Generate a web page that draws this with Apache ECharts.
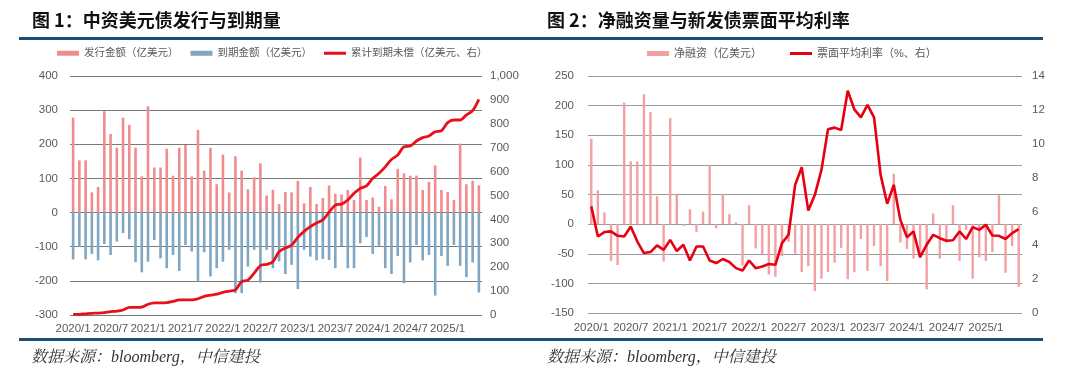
<!DOCTYPE html>
<html><head><meta charset="utf-8">
<script src="https://cdn.jsdelivr.net/npm/echarts@6/dist/echarts.min.js"></script>
<style>html,body{margin:0;padding:0;background:#fff}#c{width:1080px;height:379px}</style>
</head><body><div id="c"></div>
<script>
const months = ['2020/1','2020/2','2020/3','2020/4','2020/5','2020/6','2020/7','2020/8','2020/9','2020/10','2020/11','2020/12',
'2021/1','2021/2','2021/3','2021/4','2021/5','2021/6','2021/7','2021/8','2021/9','2021/10','2021/11','2021/12',
'2022/1','2022/2','2022/3','2022/4','2022/5','2022/6','2022/7','2022/8','2022/9','2022/10','2022/11','2022/12',
'2023/1','2023/2','2023/3','2023/4','2023/5','2023/6','2023/7','2023/8','2023/9','2023/10','2023/11','2023/12',
'2024/1','2024/2','2024/3','2024/4','2024/5','2024/6','2024/7','2024/8','2024/9','2024/10','2024/11','2024/12',
'2025/1','2025/2','2025/3','2025/4','2025/5','2025/6'];
const issuance = [278,153,153,59,75,297,230,190,278,257,190,106,311,132,132,187,108,190,198,106,242,123,190,83,170,59,165,123,68,103,144,50,67,25,60,
59,93,27,75,25,43,79,55,53,66,37,161,37,44,17,78,39,128,115,108,108,66,90,138,66,60,37,202,83,93,80];
const maturity = [-137,-100,-137,-121,-140,-92,-124,-85,-60,-78,-145,-175,-144,-80,-134,-163,-124,-171,-95,-114,-200,-116,-187,-163,-144,-109,-236,-236,-158,-109,-205,-109,-163,-143,-180,
-153,-224,-109,-129,-140,-136,-139,-163,-98,-163,-163,-90,-72,-121,-97,-163,-180,-127,-207,-146,-95,-140,-124,-243,-127,-156,-95,-156,-189,-146,-234];
const cumulativeOutstanding = [3,3,5,7,8,10,14,16,21,32,32,33,45,51,51,52,57,63,63,63,68,78,83,87,95,100,105,140,146,175,207,212,223,265,280,292,325,350,370,385,398,430,460,464,481,509,530,540,572,593,620,651,669,704,707,728,742,749,767,771,805,816,816,837,855,902];
const netFinancing = [144,57,20,-62,-69,205,106,106,219,189,47,-63,179,50,-3,25,-13,21,99,-7,50,17,3,-70,32,-41,-51,-85,-89,-54,-30,-50,-81,-71,-113,-92,-81,-65,-40,-93,-81,-25,-79,-37,-71,-96,85,-31,-42,-58,-56,-110,18,-58,-31,32,-62,-10,-92,-56,-62,-47,49,-82,-37,-106];
const couponRate = [6.3,4.52,4.78,4.82,4.56,4.52,5.11,4.22,3.54,3.6,3.99,3.73,4.32,3.66,4.03,3.1,3.93,3.93,3.1,2.95,3.19,3.01,2.65,2.51,3.1,2.65,2.75,2.89,2.85,4.13,4.62,7.57,8.61,6.05,6.98,8.45,10.86,10.95,10.81,13.13,12.03,11.56,12.29,11.56,8.16,6.45,7.57,5.5,4.48,4.82,3.3,4.03,4.62,4.42,4.27,4.3,4.82,4.37,5.07,4.91,5.21,4.58,4.56,4.37,4.72,4.96];

const titles = ['图 1：中资美元债发行与到期量', '图 2：净融资量与新发债票面平均利率'];
const sourceText = '数据来源：bloomberg，中信建投';
const names1 = ['发行金额（亿美元）', '到期金额（亿美元）', '累计到期未偿（亿美元、右）'];
const names2 = ['净融资（亿美元）', '票面平均利率（%、右）'];

const FONT = "'Liberation Sans', Arial, 'Noto Sans CJK SC', sans-serif";
const LBL = {color:'#595959', fontSize:11.5, fontFamily:FONT};
const LINE_ICON = 'path://M0,0L22,0L22,3L0,3Z';
const TITLE_STYLE = {fontSize:18, fontWeight:'bold', color:'#111', fontFamily:"'Noto Sans CJK SC', sans-serif"};
const SRC_STYLE = {fontSize:16, fontStyle:'italic', fontWeight:'normal', color:'#333', fontFamily:"'Liberation Serif', 'Noto Serif CJK SC', 'Noto Sans CJK SC', serif"};

const chart = echarts.init(document.getElementById('c'), null, {renderer:'canvas'});
chart.setOption({
  animation:false,
  backgroundColor:'#fff',
  title:[
    {text:titles[0], left:32, top:11, padding:0, textStyle:TITLE_STYLE},
    {text:titles[1], left:547, top:11, padding:0, textStyle:TITLE_STYLE},
    {text:sourceText, left:31, top:350, padding:0, textStyle:SRC_STYLE},
    {text:sourceText, left:547, top:350, padding:0, textStyle:SRC_STYLE}
  ],
  graphic:[
    {type:'rect', shape:{x:19, y:37, width:1024, height:3}, style:{fill:'#1d4f76'}},
    {type:'rect', shape:{x:19, y:338, width:1024, height:3}, style:{fill:'#1d4f76'}}
  ],
  legend:[
    {left:52, top:43, itemWidth:22, itemHeight:5, itemGap:12,
     textStyle:{color:'#595959', fontSize:10.5, fontFamily:FONT},
     data:[{name:names1[0], icon:'rect'},{name:names1[1], icon:'rect'},{name:names1[2], icon:LINE_ICON}]},
    {left:642, top:43, itemWidth:22, itemHeight:5, itemGap:28,
     textStyle:{color:'#595959', fontSize:11, fontFamily:FONT},
     data:[{name:names2[0], icon:'rect'},{name:names2[1], icon:LINE_ICON}]}
  ],
  grid:[
    {left:70, top:76, width:412, height:239},
    {left:588, top:76, width:434, height:237}
  ],
  xAxis:[
    {type:'category', gridIndex:0, data:months, axisLine:{show:false}, axisTick:{show:false},
     axisLabel:Object.assign({interval:5, margin:8}, LBL)},
    {type:'category', gridIndex:1, data:months, axisLine:{show:false}, axisTick:{show:false},
     axisLabel:Object.assign({interval:5, margin:9}, LBL)}
  ],
  yAxis:[
    {type:'value', gridIndex:0, min:-300, max:400, interval:100,
     axisLine:{show:false}, axisTick:{show:false},
     splitLine:{lineStyle:{color:'#7a7a7a', width:1}}, axisLabel:Object.assign({margin:12}, LBL)},
    {type:'value', gridIndex:0, position:'right', min:0, max:1000, interval:100,
     axisLine:{show:false}, axisTick:{show:false}, splitLine:{show:false},
     axisLabel:Object.assign({margin:8, formatter:v=>v.toLocaleString('en-US')}, LBL)},
    {type:'value', gridIndex:1, min:-150, max:250, interval:50,
     axisLine:{show:false}, axisTick:{show:false},
     splitLine:{lineStyle:{color:'#9a9a9a', width:1}}, axisLabel:Object.assign({margin:14}, LBL)},
    {type:'value', gridIndex:1, position:'right', min:0, max:14, interval:2,
     axisLine:{show:false}, axisTick:{show:false}, splitLine:{show:false},
     axisLabel:Object.assign({margin:10}, LBL)}
  ],
  series:[
    {name:names1[0], type:'bar', xAxisIndex:0, yAxisIndex:0, data:issuance, barWidth:2.6, barGap:'-100%',
     itemStyle:{color:'#f08c8e'}},
    {name:names1[1], type:'bar', xAxisIndex:0, yAxisIndex:0, data:maturity, barWidth:2.6, barGap:'-100%',
     itemStyle:{color:'#7fa6c2'}},
    {name:names1[2], type:'line', xAxisIndex:0, yAxisIndex:1, data:cumulativeOutstanding, symbol:'none',
     smooth:0.3, lineStyle:{color:'#e8101a', width:2.8}, itemStyle:{color:'#e8101a'}},
    {name:names2[0], type:'bar', xAxisIndex:1, yAxisIndex:2, data:netFinancing, barWidth:2.4,
     itemStyle:{color:'#f3a0a2'}},
    {name:names2[1], type:'line', xAxisIndex:1, yAxisIndex:3, data:couponRate, symbol:'none',
     lineStyle:{color:'#e60012', width:2.6}, itemStyle:{color:'#e60012'}}
  ]
});
</script>
</body></html>
